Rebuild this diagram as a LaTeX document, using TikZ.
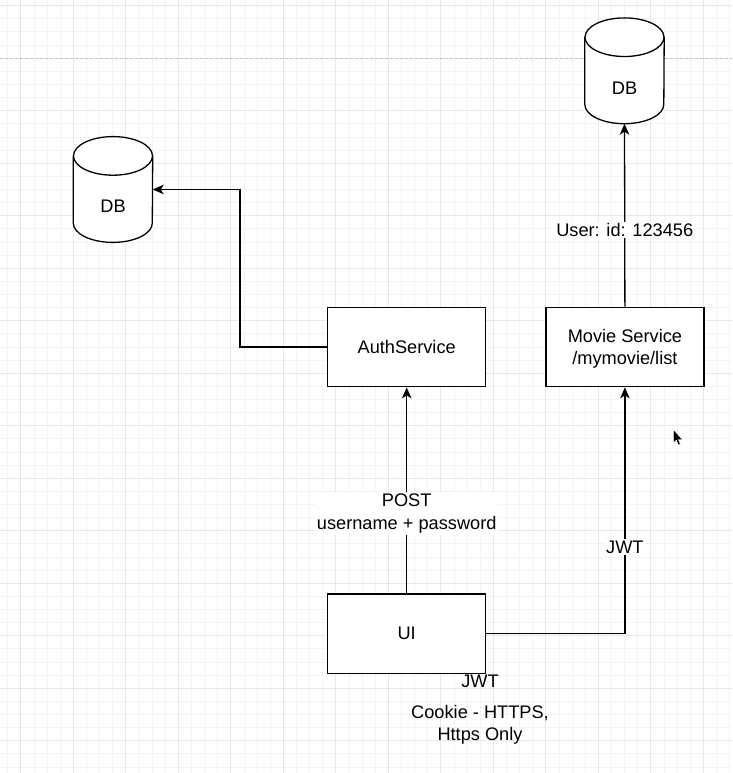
\documentclass[tikz,border=0pt]{standalone}
\usepackage{fontspec}
\setmainfont{Liberation Sans}
\usetikzlibrary{arrows.meta}

\definecolor{gridminor}{HTML}{F4F4F6}
\definecolor{gridmajor}{HTML}{E7E7E9}
\definecolor{pagebreak}{HTML}{C4C4C4}

\newcommand\diafont{\fontsize{18.2pt}{22.6pt}\selectfont}

\tikzset{
  box/.style={draw=black, fill=white, line width=1.3pt, minimum width=158pt,
    minimum height=79.4pt, inner sep=0pt, align=center, font=\diafont, text depth=0pt},
  dbnode/.style={minimum width=79pt, minimum height=105.4pt, inner sep=0pt},
  dbtext/.style={font=\diafont, inner sep=0pt},
  conn/.style={draw=black, line width=1.3pt},
  arr/.style={conn, -{Stealth[length=11pt, width=9.5pt, inset=3pt]}},
  elabel/.style={fill=white, inner sep=1.5pt, font=\diafont, align=center},
  txt/.style={font=\diafont, align=center, inner sep=0pt},
}

% database cylinder drawn over the frame of a named node
\newcommand\drawdb[1]{%
  \fill[white] ([yshift=-19.3pt]#1.north west) -- ([yshift=19.3pt]#1.south west)
    arc[start angle=180, end angle=360, x radius=39.5pt, y radius=19.3pt]
    -- ([yshift=-19.3pt]#1.north east)
    arc[start angle=0, end angle=180, x radius=39.5pt, y radius=19.3pt] -- cycle;
  \draw[conn] ([yshift=-19.3pt]#1.north) ellipse [x radius=39.5pt, y radius=19.3pt];
  \draw[conn] ([yshift=-19.3pt]#1.north west) -- ([yshift=19.3pt]#1.south west)
    arc[start angle=180, end angle=360, x radius=39.5pt, y radius=19.3pt]
    -- ([yshift=-19.3pt]#1.north east);
}

\begin{document}
\begin{tikzpicture}[x=1pt, y=-1pt]
\useasboundingbox (0,0) rectangle (732,773);
\fill[white] (0,0) rectangle (732,773);

% background grid
\foreach \k in {0,...,55}
  \draw[gridminor, line width=0.9pt] ({7.7+13.125*\k},0) -- ({7.7+13.125*\k},773);
\foreach \k in {0,...,58}
  \draw[gridminor, line width=0.9pt] (0,{5.7+13.125*\k}) -- (732,{5.7+13.125*\k});
\foreach \k in {0,...,13}
  \draw[gridmajor, line width=0.9pt] ({20.8+52.5*\k},0) -- ({20.8+52.5*\k},773);
\foreach \k in {0,...,14}
  \draw[gridmajor, line width=0.9pt] (0,{5.7+52.5*\k}) -- (732,{5.7+52.5*\k});

% page break
\draw[pagebreak, line width=0.8pt, dash pattern=on 3pt off 2pt] (0,58.3) -- (732,58.3);

% databases
\node[dbnode] (dbL) at (113,189.5) {};
\drawdb{dbL}
\node[dbtext] (dbLtext) at (113,206.7) {DB};

\node[dbnode] (dbR) at (624.5,70.8) {};
\drawdb{dbR}
\node[dbtext] (dbRtext) at (624.5,88.3) {DB};

% services
\node[box] (auth) at (406.7,347) {AuthService};
\node[box] (movie) at (624.9,347) {Movie Service\\/mymovie/list};
\node[box] (ui) at (406.7,633.7) {UI};

\coordinate (bend) at (240,347);

% connectors
\draw[arr] (ui.north) -- node[elabel, pos=0.4, yshift=-2.5pt] (postlbl) {POST\\username + password} (auth.south);
\draw[arr] (auth.west) -| (bend |- dbL.east) -- (dbL.east);
\draw[arr] (ui.east) -| node[elabel, pos=0.676] (jwtlbl) {JWT} (movie.south);
\draw[arr] (movie.north) -- node[elabel, pos=0.42] (userlbl) {User: id: 123456} (dbR.south);

% notes below the UI
\node[txt] (jwtnote) at (480,681.7) {JWT};
\node[txt] (cookie) at (480,724.8) {Cookie - HTTPS,\\Https Only};

% mouse pointer
\fill[black, draw=white, line width=0.4pt] (673.3,429.5) -- (673.3,443) -- (676.3,440.2)
  -- (678.4,445) -- (680.3,444.2) -- (678.3,439.5) -- (682.3,439.5) -- cycle;
\end{tikzpicture}
\end{document}
